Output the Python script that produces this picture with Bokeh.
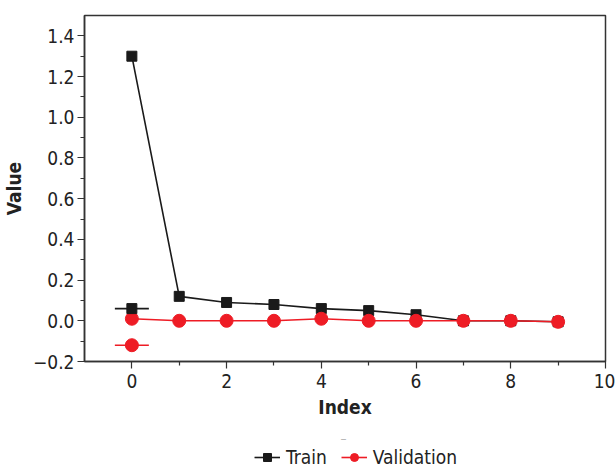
from bokeh.plotting import figure
from bokeh.layouts import column
from bokeh.models import (Range1d, FixedTicker, CustomJSTickFormatter, Legend, LegendItem, Label)
from bokeh.embed import file_html
from bokeh.resources import INLINE

# ---- data ----
index = [0, 1, 2, 3, 4, 5, 6, 7, 8, 9]
train = [1.30, 0.12, 0.09, 0.08, 0.06, 0.05, 0.03, 0.00, 0.00, -0.005]
validation = [0.01, 0.00, 0.00, 0.00, 0.01, 0.00, 0.00, 0.00, 0.00, -0.005]
sample_x = [0]
train_sample = [0.06]
validation_sample = [-0.12]
x_ticks = [0, 2, 4, 6, 8, 10]
x_minor = [1, 3, 5, 7, 9]
y_ticks = [-0.2, 0.0, 0.2, 0.4, 0.6, 0.8, 1.0, 1.2, 1.4]
y_minor = [-0.1, 0.1, 0.3, 0.5, 0.7, 0.9, 1.1, 1.3]
series_labels = ["Train", "Validation"]

FONT = "'DejaVu Sans Condensed', Roboto, sans-serif"
BLACK = "#1a1a1a"
RED = "#ee1c25"
AX = "#333333"

p = figure(width=615, height=424, output_backend="svg", toolbar_location=None,
           x_range=Range1d(-1, 10), y_range=Range1d(-0.2, 1.5),
           min_border_left=84, min_border_right=10, min_border_top=15, min_border_bottom=63)
p.grid.visible = False
p.outline_line_color = AX
p.outline_line_width = 1.5
p.background_fill_color = "white"
p.border_fill_color = "white"

for ax in (p.xaxis[0], p.yaxis[0]):
    ax.axis_line_color = AX
    ax.axis_line_width = 1.5
    ax.major_tick_line_color = AX
    ax.minor_tick_line_color = AX
    ax.major_tick_line_width = 1.2
    ax.minor_tick_line_width = 1.2
    ax.major_tick_out = 7
    ax.major_tick_in = 0
    ax.minor_tick_out = 4
    ax.minor_tick_in = 0
    ax.major_label_text_font = FONT
    ax.major_label_text_font_size = "19px"
    ax.major_label_text_color = "#222222"
    ax.axis_label_text_font = FONT
    ax.axis_label_text_font_size = "19px"
    ax.axis_label_text_font_style = "bold"
    ax.axis_label_text_color = "#222222"

p.xaxis.ticker = FixedTicker(ticks=x_ticks, minor_ticks=x_minor)
p.yaxis.ticker = FixedTicker(ticks=y_ticks, minor_ticks=y_minor)
p.yaxis.formatter = CustomJSTickFormatter(code="""
    const v = Math.abs(tick) < 1e-9 ? 0 : tick;
    return (v < 0 ? '\u2212' : '') + Math.abs(v).toFixed(1);
""")
p.xaxis.axis_label = "Index"
p.yaxis.axis_label = "Value"
p.xaxis.major_label_standoff = 5
p.xaxis.axis_label_standoff = 5
p.yaxis.major_label_standoff = 3
p.yaxis.axis_label_standoff = 5

p.line(index, train, line_color=BLACK, line_width=1.6)
p.scatter(index, train, marker="square", size=10, fill_color=BLACK, line_color=BLACK)
p.line(index, validation, line_color=RED, line_width=1.6)
p.scatter(index, validation, marker="circle", size=13, fill_color=RED, line_color=RED)

# in-plot sample glyphs
p.scatter(sample_x, train_sample, marker="dash", size=34, line_color=BLACK, line_width=1.6)
p.scatter(sample_x, train_sample, marker="square", size=10, fill_color=BLACK, line_color=BLACK)
p.scatter(sample_x, validation_sample, marker="dash", size=34, line_color=RED, line_width=1.6)
p.scatter(sample_x, validation_sample, marker="circle", size=13, fill_color=RED, line_color=RED)

# ---- legend strip (series drawn outside its visible range; only the legend shows) ----
lp = figure(width=615, height=44, output_backend="svg", toolbar_location=None,
            x_range=Range1d(100, 101), y_range=Range1d(100, 101),
            x_axis_location=None, y_axis_location=None,
            min_border_left=0, min_border_right=0, min_border_top=0, min_border_bottom=0)
lp.grid.visible = False
lp.outline_line_color = None
lp.border_fill_color = "white"
tl = lp.line(index, train, line_color=BLACK, line_width=1.6)
ts = lp.scatter(index, train, marker="square", size=8, fill_color=BLACK, line_color=BLACK)
vl = lp.line(index, validation, line_color=RED, line_width=1.6)
vs = lp.scatter(index, validation, marker="circle", size=9, fill_color=RED, line_color=RED)

legend = Legend(items=[LegendItem(label=series_labels[0], renderers=[tl, ts]),
                       LegendItem(label=series_labels[1], renderers=[vl, vs])],
                orientation="horizontal", location=(170, 0))
legend.label_text_font = FONT
legend.label_text_font_size = "19px"
legend.label_text_color = "#222222"
legend.border_line_color = None
legend.background_fill_alpha = 0
legend.glyph_width = 26
legend.label_standoff = 6
legend.spacing = 14
legend.padding = 0
legend.margin = 0
lp.add_layout(legend, "center")
lp.add_layout(Label(x=259, y=30, x_units="screen", y_units="screen", text="\u2013",
                    text_font_size="9px", text_color="#999999", text_align="center",
                    text_baseline="middle"))

open("out.html", "w").write(file_html(column(p, lp, spacing=0), INLINE))
